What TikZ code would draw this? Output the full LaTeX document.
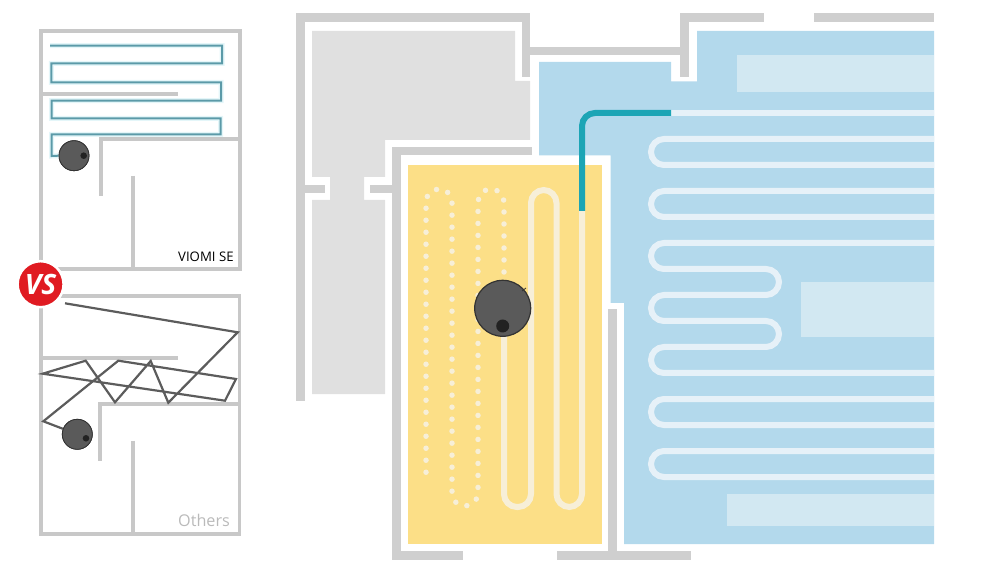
\documentclass[tikz,border=0pt]{standalone}
\usepackage{fontspec}
\setmainfont{Open Sans}
\definecolor{wallc}{HTML}{CFCFCF}
\definecolor{thinwall}{HTML}{C8C8C8}
\definecolor{roomgray}{HTML}{E0E0E0}
\definecolor{yellowroom}{HTML}{FCDF87}
\definecolor{blueroom}{HTML}{B3D9EC}
\definecolor{lightrect}{HTML}{D2E8F2}
\definecolor{snakeblue}{HTML}{E6F1F8}
\definecolor{snakecream}{HTML}{F7EFD8}
\definecolor{tealpath}{HTML}{1CA5B5}
\definecolor{smallteal}{HTML}{5B9AA8}
\definecolor{glowteal}{HTML}{E4F6F9}
\definecolor{zigzag}{HTML}{5C5C5C}
\definecolor{robotfill}{HTML}{5A5A5A}
\definecolor{robotedge}{HTML}{333333}
\definecolor{robotdot}{HTML}{222222}
\definecolor{vsred}{HTML}{E01B22}
\tikzset{
  bluesnake/.style={draw=snakeblue,line width=6pt,rounded corners=13pt},
  creamsnake/.style={draw=snakecream,line width=6pt,rounded corners=13pt},
  creamdots/.style={draw=snakecream,line width=5.5pt,line cap=round,dash pattern=on 0pt off 12pt,rounded corners=13pt},
  thin wall/.style={draw=thinwall,line width=3.8pt},
  robotsmall/.style={circle,fill=robotfill,draw=robotedge,line width=0.8pt,minimum size=30pt,inner sep=0pt},
  robotbig/.style={circle,fill=robotfill,draw=robotedge,line width=1.2pt,minimum size=56pt,inner sep=0pt},
  robotcam/.style={circle,fill=robotdot,inner sep=0pt},
}
\begin{document}
\begin{tikzpicture}[x=1pt,y=-1pt]
\useasboundingbox (0,0) rectangle (991,577);
% ---- large plan: rooms
\fill[roomgray] (312,31) -- (515,31) -- (515,81) -- (530,81) -- (530,140) -- (385,140) -- (385,177) -- (364,177) -- (364,200) -- (385,200) -- (385,394) -- (312,394) -- (312,200) -- (330,200) -- (330,177) -- (312,177) -- cycle;
\fill[blueroom] (539,62) -- (671,62) -- (671,81.5) -- (697,81.5) -- (697,31) -- (934,31) -- (934,544) -- (624,544) -- (624,303) -- (610.5,303) -- (610.5,155.5) -- (539,155.5) -- cycle;
\fill[yellowroom] (408,165) rectangle (602,544);
\fill[lightrect] (737,55) rectangle (934,92);
\fill[lightrect] (801,282) rectangle (934,337);
\fill[lightrect] (727,494) rectangle (934,526);
% ---- large plan: walls
\fill[wallc] (296,13) rectangle (530,22);
\fill[wallc] (296,13) rectangle (305,401);
\fill[wallc] (521.5,13) rectangle (530,77);
\fill[wallc] (530,47) rectangle (689,55);
\fill[wallc] (680,13) rectangle (689,77);
\fill[wallc] (680,13) rectangle (764,22);
\fill[wallc] (814,13) rectangle (934,22);
\fill[wallc] (392,147) rectangle (532,155);
\fill[wallc] (392,147) rectangle (401,560);
\fill[wallc] (392,551) rectangle (463,560);
\fill[wallc] (305,185) rectangle (325,193);
\fill[wallc] (370,185) rectangle (392,193);
\fill[wallc] (608,309) rectangle (617,551);
\fill[wallc] (557,551) rectangle (691,560);
% ---- blue room path
\draw[draw=snakeblue,line width=6pt] (671,113) -- (934,113);
\draw[bluesnake] (934,139) -- (651,139) -- (651,165) -- (934,165);
\draw[bluesnake] (934,191) -- (651,191) -- (651,217) -- (934,217);
\draw[bluesnake] (934,243) -- (651,243) -- (651,269) -- (779,269) -- (779,295) -- (651,295) -- (651,321) -- (779,321) -- (779,347) -- (651,347) -- (651,373) -- (934,373);
\draw[bluesnake] (934,399) -- (651,399) -- (651,425) -- (934,425);
\draw[bluesnake] (934,451) -- (651,451) -- (651,477) -- (934,477);
% ---- yellow room path
\draw[creamsnake] (582,211) -- (582,507) -- (556.5,507) -- (556.5,190) -- (531,190) -- (531,507) -- (504,507) -- (504,300);
\draw[creamdots] (504,272) -- (504,189) -- (478,189) -- (478,506) -- (452,506) -- (452,189) -- (426,189) -- (426,482);
\draw[draw=tealpath,line width=6pt,rounded corners=13pt] (582,211) -- (582,113) -- (671,113);
% ---- large robot
\node[robotbig] (bigrobot) at (502.7,308.3) {};
\node[robotcam,minimum size=13pt] (bigcam) at (502.7,326) {};
\draw[robotedge,line width=0.8pt] (522,291) -- (526,288);
% ---- top comparison panel
\draw[thin wall] (40.7,31.3) rectangle (240,269.3);
\draw[thin wall] (41,94) -- (178,94);
\draw[thin wall] (240,139.3) -- (100.7,139.3) -- (100.7,195.7);
\draw[thin wall] (133.3,175.7) -- (133.3,269);
\node[robotsmall] (robotA) at (74,155.7) {};
\coordinate (startA) at (50,45.7);
\draw[glowteal,line width=5pt,line join=miter] (startA) -- (222,45.7) -- (222,63.3) -- (51.3,63.3) -- (51.3,82.3) -- (221,82.3) -- (221,100.7) -- (51.7,100.7) -- (51.7,118.3) -- (220.7,118.3) -- (220.7,134.3) -- (51.7,134.3) -- (51.7,156) -- (robotA.west);
\draw[smallteal,line width=2pt] (startA) -- (222,45.7) -- (222,63.3) -- (51.3,63.3) -- (51.3,82.3) -- (221,82.3) -- (221,100.7) -- (51.7,100.7) -- (51.7,118.3) -- (220.7,118.3) -- (220.7,134.3) -- (51.7,134.3) -- (51.7,156) -- (robotA.west);
\node[robotsmall] at (robotA) {};
\node[robotcam,minimum size=6.6pt] (camA) at (83.7,155.7) {};
\node[anchor=base west,inner sep=0pt,font=\fontsize{13.2}{15}\selectfont,text=black] (labelA) at (178,261.7) {VIOMI SE};
% ---- bottom comparison panel
\draw[thin wall] (40.7,296) rectangle (239.5,534.3);
\draw[thin wall] (41,358.3) -- (177.7,358.3);
\draw[thin wall] (239.5,404.3) -- (100,404.3) -- (100,460.7);
\draw[thin wall] (133.3,440.7) -- (133.3,534);
\node[robotsmall] (robotB) at (77.3,434.3) {};
\coordinate (startB) at (65,303.3);
\draw[zigzag,line width=2.2pt] (startB) -- (237.7,332.3) -- (168.3,402.7) -- (150.7,361) -- (115,402.3) -- (85.7,360.7) -- (42.7,373.7) -- (225,400.7) -- (236,379) -- (118.3,360.7) -- (43.3,421.3) -- (robotB);
\node[robotsmall] at (robotB) {};
\node[robotcam,minimum size=6.6pt] (camB) at (86,438.3) {};
\node[anchor=base west,inner sep=0pt,font=\fontsize{16.2}{18}\selectfont,text=black!27] (labelB) at (178,526.7) {Others};
% ---- VS badge
\node[circle,fill=vsred,draw=white,line width=2.5pt,minimum size=46pt,inner sep=0pt,font=\fontsize{28}{28}\selectfont\bfseries\itshape,text=white] (vsbadge) at (40.6,284.2) {VS};
\end{tikzpicture}
\end{document}
